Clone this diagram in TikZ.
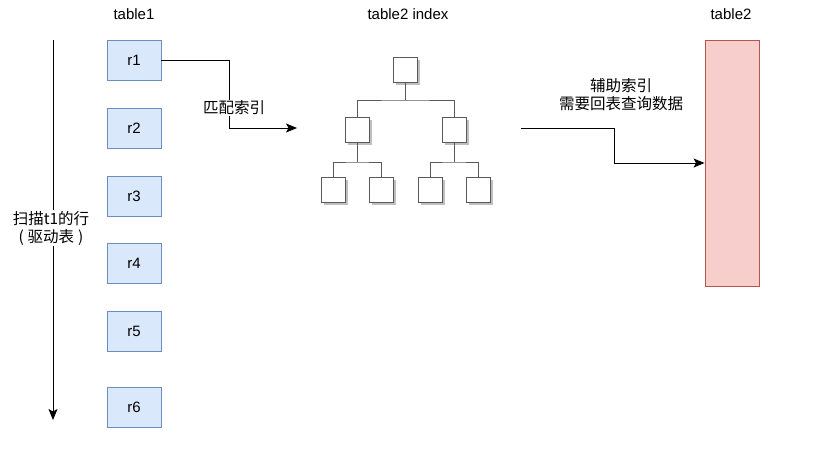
\documentclass[tikz,border=0pt]{standalone}
\usepackage{fontspec}
\setmainfont{Liberation Sans}
\newfontfamily\cjk{Noto Sans CJK SC}
\usetikzlibrary{arrows.meta,shadows}
\definecolor{rowfill}{HTML}{DAE8FC}
\definecolor{rowdraw}{HTML}{6C8EBF}
\definecolor{tabfill}{HTML}{F8CECC}
\definecolor{tabdraw}{HTML}{B85450}
\definecolor{treeline}{HTML}{5A5A5A}
\tikzset{
  rowbox/.style={draw=rowdraw, fill=rowfill, minimum width=54pt, minimum height=40pt, inner sep=0pt, line width=0.8pt, font=\fontsize{15}{17}\selectfont},
  title/.style={font=\fontsize{15}{17}\selectfont, inner sep=1pt},
  lbl/.style={font=\cjk\fontsize{15.5}{18}\selectfont, fill=white, inner sep=1pt, align=center},
  treebox/.style={draw=treeline, fill=white, minimum width=24pt, minimum height=25pt, inner sep=0pt, line width=0.9pt,
     drop shadow={shadow xshift=2.5pt, shadow yshift=-2.5pt, fill=gray, opacity=0.5}},
  treeln/.style={draw=treeline, line width=1pt},
  conn/.style={draw=black, line width=1pt, -{Stealth[length=11pt,width=9pt,inset=2.5pt]}}
}
\begin{document}
\begin{tikzpicture}[x=1pt,y=-1pt]
\useasboundingbox (0,0) rectangle (831,466);
% titles
\node[title] (t1) at (134,14) {table1};
\node[title] (ti) at (408,14) {table2 index};
\node[title] (t2) at (731,14) {table2};
% rows
\node[rowbox] (r1) at (134,60) {r1};
\node[rowbox] (r2) at (134,128) {r2};
\node[rowbox] (r3) at (134,196) {r3};
\node[rowbox] (r4) at (134,263) {r4};
\node[rowbox] (r5) at (134,331) {r5};
\node[rowbox] (r6) at (134,407) {r6};
% scan arrow
\coordinate (sa) at (53,40);
\coordinate (sb) at (53,420);
\draw[conn] (sa) -- (sb);
\node[lbl] (scan) at (51,228) {扫描t1的行\\(\hspace{4pt}驱动表\hspace{4pt})};
% table2
\node[draw=tabdraw, fill=tabfill, line width=0.9pt, minimum width=54pt, minimum height=246pt, inner sep=0pt] (tab2) at (732,163) {};
% tree
\node[treebox] (n0) at (405,70) {};
\node[treebox] (n1) at (357,130) {};
\node[treebox] (n2) at (454,130) {};
\node[treebox] (l1) at (333,190) {};
\node[treebox] (l2) at (381,190) {};
\node[treebox] (l3) at (430,190) {};
\node[treebox] (l4) at (478,190) {};
\draw[treeln] (n0.south) -- (405,100) coordinate (b0);
\draw[treeln] (n1.north) |- (b0) -| (n2.north);
\draw[treeln] (n1.south) -- (357,162) coordinate (b1);
\draw[treeln] (l1.north) |- (b1) -| (l2.north);
\draw[treeln] (n2.south) -- (454,162) coordinate (b2);
\draw[treeln] (l3.north) |- (b2) -| (l4.north);
% connector r1 -> index
\coordinate (ia) at (297,128);
\draw[conn] (r1.east) -- (229,60) -- (229,128) -- (ia);
\node[lbl] (m1) at (234,108) {匹配索引};
% connector index -> table2
\coordinate (ib) at (521,128);
\draw[conn] (ib) -- (614,128) -- (614,163) -- (tab2.west |- 0,163);
\node[lbl, fill=none] (m2) at (621,95) {辅助索引\\需要回表查询数据};
\end{tikzpicture}
\end{document}
